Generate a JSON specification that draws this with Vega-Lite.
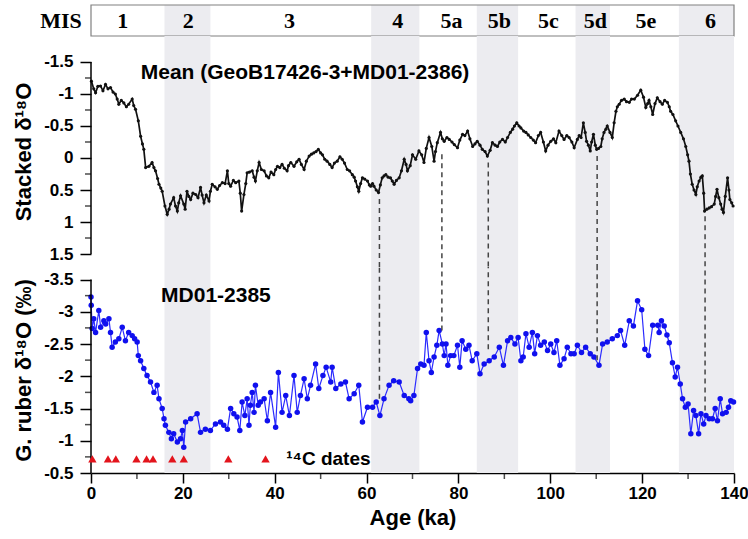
{
"$schema": "https://vega.github.io/schema/vega-lite/v6.json",
"background": "white",
"padding": {"left": 12, "top": 4, "right": 10, "bottom": 5},
"spacing": 0,
"bounds": "flush",
"resolve": {"scale": {"x": "independent", "y": "independent"}},
"config": {"view": {"stroke": null}, "font": "Liberation Sans",
 "axis": {"domainColor": "#000", "domainWidth": 1.5, "tickColor": "#000", "tickWidth": 1.5, "labelFont": "Liberation Sans", "labelFontSize": 17, "labelFontWeight": "bold", "labelColor": "#000", "titleFont": "Liberation Sans", "titleFontSize": 22, "titleFontWeight": "bold", "titleColor": "#000", "grid": false, "labelPadding": 3, "titlePadding": 12, "labelOverlap": false, "labelFlush": false}},
"datasets": {
 "bands": [{"start":16,"end":26},{"start":61,"end":71.5},{"start":84,"end":93},{"start":105.5,"end":113},{"start":128,"end":140}],
 "mis": [{"label":"1","pos":6.9},{"label":"2","pos":21.2},{"label":"3","pos":43.2},{"label":"4","pos":66.8},{"label":"5a","pos":78.5},{"label":"5b","pos":88.9},{"label":"5c","pos":99.6},{"label":"5d","pos":109.8},{"label":"5e","pos":120.8},{"label":"6","pos":134.9}],
 "dashed": [{"ka":62.8,"top":0.64,"bottom":-1.65},{"ka":76.4,"top":-0.06,"bottom":-2.71},{"ka":86.5,"top":0.07,"bottom":-2.42},{"ka":110.2,"top":-0.03,"bottom":-2.25},{"ka":133.7,"top":0.91,"bottom":-1.47}],
 "c14": [{"ka":0.3},{"ka":3.7},{"ka":5.4},{"ka":9.9},{"ka":12.1},{"ka":13.5},{"ka":17.7},{"ka":20.2},{"ka":29.9},{"ka":38.0}],
 "minorTop": [{"t":-1.25},{"t":-0.75},{"t":-0.25},{"t":0.25},{"t":0.75},{"t":1.25}],
 "minorBot": [{"t":-3.25},{"t":-2.75},{"t":-2.25},{"t":-1.75},{"t":-1.25},{"t":-0.75}],
 "minorX": [{"t":10},{"t":30},{"t":50},{"t":70},{"t":90},{"t":110},{"t":130}],
 "stack": [
{"ka":0.1,"v":-1.2},{"ka":0.6,"v":-1.08},{"ka":1.0,"v":-1.02},{"ka":1.5,"v":-1.12},{"ka":2.07,"v":-1.125},{"ka":2.6,"v":-1.05},{"ka":3.16,"v":-1.15},{"ka":3.7,"v":-1.08},{"ka":4.25,"v":-1.1},{"ka":4.8,"v":-1.03},{"ka":5.3,"v":-1.0},{"ka":5.7,"v":-0.92},{"ka":6.06,"v":-0.84},{"ka":6.6,"v":-0.9},{"ka":7.15,"v":-0.86},{"ka":7.7,"v":-0.8},{"ka":8.2,"v":-0.84},{"ka":8.97,"v":-0.92},{"ka":9.3,"v":-0.82},{"ka":9.7,"v":-0.76},{"ka":10.3,"v":-0.58},{"ka":10.8,"v":-0.34},{"ka":11.2,"v":-0.22},{"ka":11.5,"v":-0.135},{"ka":11.9,"v":0.15},{"ka":12.6,"v":0.13},{"ka":13.3,"v":0.07},{"ka":13.7,"v":0.15},{"ka":14.05,"v":0.2},{"ka":14.5,"v":0.32},{"ka":14.8,"v":0.41},{"ka":15.2,"v":0.47},{"ka":15.5,"v":0.52},{"ka":16.1,"v":0.75},{"ka":16.6,"v":0.88},{"ka":17.0,"v":0.8},{"ka":17.3,"v":0.72},{"ka":18.0,"v":0.62},{"ka":18.4,"v":0.75},{"ka":18.8,"v":0.83},{"ka":19.1,"v":0.7},{"ka":19.5,"v":0.59},{"ka":20.2,"v":0.72},{"ka":20.5,"v":0.8},{"ka":20.9,"v":0.52},{"ka":21.3,"v":0.6},{"ka":21.7,"v":0.65},{"ka":22.2,"v":0.55},{"ka":22.8,"v":0.57},{"ka":23.3,"v":0.62},{"ka":23.85,"v":0.46},{"ka":24.2,"v":0.58},{"ka":24.6,"v":0.7},{"ka":25.1,"v":0.58},{"ka":25.7,"v":0.67},{"ka":26.0,"v":0.52},{"ka":26.4,"v":0.41},{"ka":27.0,"v":0.45},{"ka":27.5,"v":0.49},{"ka":28.0,"v":0.43},{"ka":28.6,"v":0.385},{"ka":29.2,"v":0.4},{"ka":29.7,"v":0.2},{"ka":30.0,"v":0.4},{"ka":30.4,"v":0.44},{"ka":31.0,"v":0.35},{"ka":31.5,"v":0.385},{"ka":32.2,"v":0.36},{"ka":32.5,"v":0.55},{"ka":32.8,"v":0.83},{"ka":33.3,"v":0.57},{"ka":33.7,"v":0.4},{"ka":34.0,"v":0.23},{"ka":34.5,"v":0.22},{"ka":35.1,"v":0.2},{"ka":35.5,"v":0.3},{"ka":35.8,"v":0.36},{"ka":36.2,"v":0.2},{"ka":36.6,"v":0.07},{"ka":37.1,"v":0.18},{"ka":37.7,"v":0.2},{"ka":38.2,"v":0.28},{"ka":38.7,"v":0.31},{"ka":39.2,"v":0.22},{"ka":39.8,"v":0.26},{"ka":40.2,"v":0.18},{"ka":40.6,"v":0.13},{"ka":41.1,"v":0.15},{"ka":41.6,"v":0.1},{"ka":42.1,"v":0.16},{"ka":42.7,"v":0.2},{"ka":43.0,"v":0.12},{"ka":43.5,"v":0.07},{"ka":44.2,"v":0.13},{"ka":44.8,"v":0.06},{"ka":45.3,"v":0.02},{"ka":45.8,"v":0.1},{"ka":46.4,"v":0.18},{"ka":46.9,"v":0.05},{"ka":47.5,"v":-0.03},{"ka":48.0,"v":-0.06},{"ka":48.5,"v":-0.08},{"ka":49.0,"v":-0.1},{"ka":49.5,"v":-0.135},{"ka":50.0,"v":-0.08},{"ka":50.4,"v":-0.05},{"ka":50.9,"v":0.02},{"ka":51.4,"v":0.05},{"ka":52.0,"v":0.1},{"ka":52.5,"v":0.15},{"ka":53.0,"v":0.08},{"ka":53.6,"v":0.05},{"ka":54.2,"v":-0.02},{"ka":54.7,"v":0.02},{"ka":55.2,"v":0.08},{"ka":55.8,"v":0.18},{"ka":56.3,"v":0.2},{"ka":56.9,"v":0.26},{"ka":57.3,"v":0.3},{"ka":57.6,"v":0.36},{"ka":58.0,"v":0.45},{"ka":58.3,"v":0.52},{"ka":58.7,"v":0.4},{"ka":59.1,"v":0.31},{"ka":59.6,"v":0.33},{"ka":60.2,"v":0.36},{"ka":60.6,"v":0.42},{"ka":60.9,"v":0.44},{"ka":61.3,"v":0.4},{"ka":61.6,"v":0.44},{"ka":62.1,"v":0.5},{"ka":62.6,"v":0.54},{"ka":63.0,"v":0.42},{"ka":63.4,"v":0.31},{"ka":63.8,"v":0.28},{"ka":64.2,"v":0.26},{"ka":64.7,"v":0.3},{"ka":65.2,"v":0.31},{"ka":65.6,"v":0.36},{"ka":66.0,"v":0.41},{"ka":66.5,"v":0.35},{"ka":67.1,"v":0.31},{"ka":67.6,"v":0.2},{"ka":68.2,"v":0.02},{"ka":68.6,"v":0.1},{"ka":68.9,"v":0.2},{"ka":69.5,"v":0.12},{"ka":70.0,"v":-0.05},{"ka":70.7,"v":0.02},{"ka":71.4,"v":-0.11},{"ka":72.0,"v":-0.05},{"ka":72.5,"v":0.07},{"ka":73.0,"v":-0.15},{"ka":73.6,"v":-0.32},{"ka":74.2,"v":-0.18},{"ka":74.7,"v":0.05},{"ka":75.0,"v":-0.1},{"ka":75.4,"v":-0.24},{"ka":76.1,"v":-0.4},{"ka":76.5,"v":-0.3},{"ka":76.9,"v":-0.26},{"ka":77.5,"v":-0.32},{"ka":78.0,"v":-0.29},{"ka":78.6,"v":-0.25},{"ka":79.1,"v":-0.21},{"ka":79.8,"v":-0.16},{"ka":80.3,"v":-0.28},{"ka":80.9,"v":-0.37},{"ka":81.4,"v":-0.35},{"ka":82.0,"v":-0.42},{"ka":82.5,"v":-0.3},{"ka":83.1,"v":-0.18},{"ka":83.6,"v":-0.22},{"ka":84.1,"v":-0.26},{"ka":84.7,"v":-0.2},{"ka":85.2,"v":-0.135},{"ka":85.8,"v":-0.1},{"ka":86.3,"v":-0.03},{"ka":86.9,"v":-0.12},{"ka":87.4,"v":-0.24},{"ka":88.0,"v":-0.2},{"ka":88.5,"v":-0.18},{"ka":89.0,"v":-0.25},{"ka":89.6,"v":-0.29},{"ka":90.2,"v":-0.25},{"ka":90.7,"v":-0.32},{"ka":91.3,"v":-0.4},{"ka":91.8,"v":-0.45},{"ka":92.2,"v":-0.5},{"ka":92.7,"v":-0.55},{"ka":93.2,"v":-0.5},{"ka":93.6,"v":-0.47},{"ka":94.2,"v":-0.42},{"ka":94.7,"v":-0.4},{"ka":95.2,"v":-0.36},{"ka":95.75,"v":-0.32},{"ka":96.3,"v":-0.28},{"ka":96.8,"v":-0.24},{"ka":97.4,"v":-0.35},{"ka":97.9,"v":-0.4},{"ka":98.5,"v":-0.25},{"ka":99.0,"v":-0.11},{"ka":99.5,"v":-0.2},{"ka":100.1,"v":-0.26},{"ka":100.7,"v":-0.3},{"ka":101.2,"v":-0.24},{"ka":101.9,"v":-0.42},{"ka":102.5,"v":-0.35},{"ka":103.0,"v":-0.29},{"ka":103.6,"v":-0.35},{"ka":104.1,"v":-0.32},{"ka":104.7,"v":-0.25},{"ka":105.2,"v":-0.16},{"ka":105.9,"v":-0.29},{"ka":106.3,"v":-0.35},{"ka":106.7,"v":-0.32},{"ka":107.2,"v":-0.55},{"ka":107.6,"v":-0.4},{"ka":107.9,"v":-0.26},{"ka":108.3,"v":-0.2},{"ka":108.7,"v":-0.11},{"ka":109.0,"v":-0.25},{"ka":109.4,"v":-0.37},{"ka":109.8,"v":-0.2},{"ka":110.1,"v":-0.135},{"ka":110.5,"v":-0.15},{"ka":111.0,"v":-0.18},{"ka":111.3,"v":-0.3},{"ka":111.7,"v":-0.4},{"ka":112.1,"v":-0.45},{"ka":112.4,"v":-0.5},{"ka":113.0,"v":-0.4},{"ka":113.5,"v":-0.32},{"ka":113.9,"v":-0.55},{"ka":114.3,"v":-0.73},{"ka":114.6,"v":-0.8},{"ka":115.0,"v":-0.84},{"ka":115.5,"v":-0.9},{"ka":116.1,"v":-0.92},{"ka":116.6,"v":-0.88},{"ka":117.2,"v":-0.87},{"ka":117.7,"v":-0.92},{"ka":118.3,"v":-0.92},{"ka":119.0,"v":-0.98},{"ka":119.7,"v":-1.06},{"ka":120.3,"v":-0.95},{"ka":120.8,"v":-0.79},{"ka":121.2,"v":-0.85},{"ka":121.5,"v":-0.9},{"ka":121.9,"v":-0.8},{"ka":122.3,"v":-0.68},{"ka":122.8,"v":-0.85},{"ka":123.3,"v":-0.94},{"ka":123.9,"v":-0.88},{"ka":124.4,"v":-0.84},{"ka":124.9,"v":-0.9},{"ka":125.5,"v":-0.87},{"ka":125.9,"v":-0.8},{"ka":126.2,"v":-0.73},{"ka":126.7,"v":-0.68},{"ka":127.3,"v":-0.58},{"ka":127.8,"v":-0.5},{"ka":128.4,"v":-0.4},{"ka":129.0,"v":-0.3},{"ka":129.5,"v":-0.18},{"ka":129.9,"v":-0.05},{"ka":130.2,"v":0.05},{"ka":130.5,"v":0.25},{"ka":130.9,"v":0.41},{"ka":131.3,"v":0.5},{"ka":131.7,"v":0.57},{"ka":132.0,"v":0.45},{"ka":132.4,"v":0.36},{"ka":132.8,"v":0.3},{"ka":133.1,"v":0.28},{"ka":133.4,"v":0.55},{"ka":133.6,"v":0.83},{"ka":134.1,"v":0.8},{"ka":134.6,"v":0.78},{"ka":135.1,"v":0.76},{"ka":135.7,"v":0.72},{"ka":136.0,"v":0.6},{"ka":136.3,"v":0.49},{"ka":136.7,"v":0.62},{"ka":137.1,"v":0.72},{"ka":137.4,"v":0.8},{"ka":137.7,"v":0.85},{"ka":138.1,"v":0.6},{"ka":138.6,"v":0.31},{"ka":138.9,"v":0.5},{"ka":139.1,"v":0.65},{"ka":139.5,"v":0.7},{"ka":139.8,"v":0.75}],
 "md": [
{"ka":0.0,"v":-3.23},{"ka":0.05,"v":-3.1},{"ka":0.25,"v":-2.74},{"ka":0.6,"v":-2.89},{"ka":1.0,"v":-2.68},{"ka":1.7,"v":-3.02},{"ka":2.1,"v":-2.76},{"ka":2.8,"v":-2.86},{"ka":3.2,"v":-2.81},{"ka":3.9,"v":-2.89},{"ka":4.25,"v":-2.68},{"ka":4.6,"v":-2.45},{"ka":5.3,"v":-2.53},{"ka":6.06,"v":-2.58},{"ka":6.8,"v":-2.76},{"ka":7.5,"v":-2.55},{"ka":8.2,"v":-2.68},{"ka":8.97,"v":-2.63},{"ka":9.5,"v":-2.58},{"ka":10.05,"v":-2.53},{"ka":10.3,"v":-2.32},{"ka":10.8,"v":-2.24},{"ka":11.5,"v":-2.12},{"ka":12.2,"v":-2.01},{"ka":12.96,"v":-1.91},{"ka":13.7,"v":-1.75},{"ka":14.4,"v":-1.86},{"ka":14.8,"v":-1.65},{"ka":15.5,"v":-1.5},{"ka":15.9,"v":-1.34},{"ka":16.2,"v":-1.24},{"ka":16.95,"v":-1.13},{"ka":17.5,"v":-1.03},{"ka":18.0,"v":-1.11},{"ka":18.8,"v":-0.98},{"ka":19.5,"v":-1.03},{"ka":19.9,"v":-1.16},{"ka":20.2,"v":-0.9},{"ka":20.6,"v":-1.29},{"ka":21.7,"v":-1.34},{"ka":23.1,"v":-1.42},{"ka":23.85,"v":-1.13},{"ka":24.9,"v":-1.18},{"ka":26.0,"v":-1.16},{"ka":27.1,"v":-1.26},{"ka":28.2,"v":-1.29},{"ka":28.9,"v":-1.24},{"ka":29.7,"v":-1.18},{"ka":30.4,"v":-1.5},{"ka":31.1,"v":-1.42},{"ka":31.8,"v":-1.37},{"ka":32.4,"v":-1.16},{"ka":32.9,"v":-1.6},{"ka":33.5,"v":-1.39},{"ka":34.0,"v":-1.65},{"ka":34.4,"v":-1.24},{"ka":34.7,"v":-1.55},{"ka":35.1,"v":-1.75},{"ka":35.5,"v":-1.44},{"ka":35.8,"v":-1.86},{"ka":36.4,"v":-1.55},{"ka":36.9,"v":-1.6},{"ka":37.7,"v":-1.65},{"ka":38.4,"v":-1.31},{"ka":39.1,"v":-1.75},{"ka":40.2,"v":-1.21},{"ka":40.8,"v":-2.06},{"ka":41.6,"v":-1.44},{"ka":42.4,"v":-1.7},{"ka":43.2,"v":-1.39},{"ka":44.2,"v":-2.01},{"ka":44.9,"v":-1.44},{"ka":45.6,"v":-1.7},{"ka":46.4,"v":-1.96},{"ka":47.1,"v":-1.65},{"ka":47.8,"v":-1.86},{"ka":48.9,"v":-2.19},{"ka":49.6,"v":-1.81},{"ka":50.5,"v":-2.01},{"ka":51.2,"v":-2.14},{"ka":52.2,"v":-1.91},{"ka":52.5,"v":-2.14},{"ka":53.3,"v":-1.81},{"ka":54.4,"v":-1.88},{"ka":55.4,"v":-1.91},{"ka":56.2,"v":-1.65},{"ka":57.3,"v":-1.73},{"ka":58.3,"v":-1.86},{"ka":59.1,"v":-1.29},{"ka":60.2,"v":-1.52},{"ka":61.3,"v":-1.52},{"ka":62.1,"v":-1.6},{"ka":62.9,"v":-1.39},{"ka":63.8,"v":-1.65},{"ka":64.9,"v":-1.86},{"ka":65.9,"v":-1.93},{"ka":67.1,"v":-1.91},{"ka":68.2,"v":-1.7},{"ka":69.2,"v":-1.65},{"ka":69.6,"v":-1.62},{"ka":70.3,"v":-1.7},{"ka":71.1,"v":-2.12},{"ka":71.8,"v":-2.19},{"ka":72.5,"v":-2.17},{"ka":73.0,"v":-2.68},{"ka":73.6,"v":-2.24},{"ka":74.1,"v":-2.06},{"ka":74.7,"v":-2.3},{"ka":75.3,"v":-2.48},{"ka":75.8,"v":-2.71},{"ka":76.5,"v":-2.5},{"ka":76.9,"v":-2.32},{"ka":77.3,"v":-2.5},{"ka":77.7,"v":-2.17},{"ka":78.3,"v":-2.32},{"ka":79.0,"v":-2.32},{"ka":79.8,"v":-2.48},{"ka":80.3,"v":-2.14},{"ka":80.8,"v":-2.55},{"ka":81.6,"v":-2.42},{"ka":82.3,"v":-2.48},{"ka":83.0,"v":-2.24},{"ka":84.0,"v":-2.35},{"ka":84.7,"v":-2.04},{"ka":85.6,"v":-2.19},{"ka":86.7,"v":-2.24},{"ka":87.8,"v":-2.3},{"ka":88.9,"v":-2.45},{"ka":89.8,"v":-2.17},{"ka":90.7,"v":-2.55},{"ka":91.4,"v":-2.6},{"ka":92.3,"v":-2.5},{"ka":93.0,"v":-2.6},{"ka":93.6,"v":-2.24},{"ka":94.1,"v":-2.3},{"ka":94.7,"v":-2.66},{"ka":95.4,"v":-2.45},{"ka":96.1,"v":-2.68},{"ka":96.6,"v":-2.35},{"ka":97.2,"v":-2.63},{"ka":97.9,"v":-2.48},{"ka":98.7,"v":-2.53},{"ka":99.4,"v":-2.4},{"ka":100.1,"v":-2.5},{"ka":100.8,"v":-2.37},{"ka":101.4,"v":-2.55},{"ka":102.1,"v":-2.17},{"ka":103.0,"v":-2.27},{"ka":103.7,"v":-2.45},{"ka":104.5,"v":-2.35},{"ka":105.2,"v":-2.35},{"ka":105.9,"v":-2.48},{"ka":106.8,"v":-2.37},{"ka":107.7,"v":-2.45},{"ka":108.7,"v":-2.35},{"ka":109.5,"v":-2.3},{"ka":110.6,"v":-2.17},{"ka":111.4,"v":-2.5},{"ka":112.4,"v":-2.53},{"ka":113.5,"v":-2.58},{"ka":114.6,"v":-2.63},{"ka":115.3,"v":-2.71},{"ka":116.2,"v":-2.48},{"ka":117.2,"v":-2.86},{"ka":118.1,"v":-2.78},{"ka":119.0,"v":-3.17},{"ka":119.9,"v":-3.03},{"ka":120.6,"v":-2.42},{"ka":121.4,"v":-2.32},{"ka":122.3,"v":-2.79},{"ka":123.4,"v":-2.79},{"ka":123.7,"v":-2.68},{"ka":124.2,"v":-2.86},{"ka":124.8,"v":-2.78},{"ka":125.4,"v":-2.64},{"ka":125.9,"v":-2.52},{"ka":126.6,"v":-2.21},{"ka":127.2,"v":-1.99},{"ka":127.7,"v":-2.14},{"ka":128.3,"v":-1.88},{"ka":128.8,"v":-1.65},{"ka":129.4,"v":-1.52},{"ka":130.0,"v":-1.57},{"ka":130.6,"v":-1.11},{"ka":131.2,"v":-1.47},{"ka":131.7,"v":-1.39},{"ka":132.3,"v":-1.11},{"ka":132.8,"v":-1.42},{"ka":133.4,"v":-1.26},{"ka":133.9,"v":-1.39},{"ka":134.6,"v":-1.34},{"ka":135.3,"v":-1.34},{"ka":135.9,"v":-1.5},{"ka":136.4,"v":-1.31},{"ka":137.0,"v":-1.65},{"ka":137.5,"v":-1.42},{"ka":138.3,"v":-1.44},{"ka":138.8,"v":-1.52},{"ka":139.3,"v":-1.62},{"ka":139.9,"v":-1.6}]
},
"vconcat": [
 {
  "width": 643, "height": 31,
  "layer": [
   {"data": {"name": "bands"}, "mark": {"type": "rect", "color": "#ececf0"},
    "encoding": {"x": {"field": "start", "type": "quantitative", "scale": {"domain": [0, 140], "nice": false, "zero": false}, "axis": null}, "x2": {"field": "end"}}},
   {"data": {"values": [{"a": 0, "b": 140}]}, "mark": {"type": "rect", "fillOpacity": 0, "stroke": "#808080", "strokeWidth": 1.2},
    "encoding": {"x": {"field": "a", "type": "quantitative", "axis": null}, "x2": {"field": "b"}}},
   {"data": {"name": "mis"}, "mark": {"type": "text", "font": "Liberation Serif", "fontSize": 22, "fontWeight": "bold", "color": "#000"},
    "encoding": {"x": {"field": "pos", "type": "quantitative", "axis": null}, "text": {"field": "label", "type": "nominal"}}},
   {"data": {"values": [{"label": "MIS", "pos": -2}]}, "mark": {"type": "text", "font": "Liberation Serif", "fontSize": 22, "fontWeight": "bold", "color": "#000", "align": "right"},
    "encoding": {"x": {"field": "pos", "type": "quantitative", "axis": null}, "text": {"field": "label", "type": "nominal"}}}
  ]
 },
 {
  "width": 643, "height": 231,
  "layer": [
   {"data": {"name": "bands"}, "mark": {"type": "rect", "color": "#ececf0"},
    "encoding": {"x": {"field": "start", "type": "quantitative", "scale": {"domain": [0, 140], "nice": false, "zero": false}, "axis": null}, "x2": {"field": "end"},
     "y": {"datum": -1.906, "type": "quantitative"}, "y2": {"datum": 1.703}}},
   {"data": {"name": "stack"}, "mark": {"type": "line", "color": "#111", "strokeWidth": 1.7, "point": {"filled": true, "size": 10, "color": "#111"}},
    "encoding": {"x": {"field": "ka", "type": "quantitative", "axis": null},
     "y": {"field": "v", "type": "quantitative", "scale": {"domain": [-1.906, 1.703], "reverse": true, "nice": false, "zero": false},
      "axis": {"values": [-1.5,-1,-0.5,0,0.5,1,1.5], "tickCount": 50, "domain": false, "labelExpr": "'' + datum.value", "tickSize": 11, "labelOverlap": false, "labelPadding": 7, "titlePadding": 8, "title": "Stacked δ¹⁸O"}}}},
   {"data": {"values": [{"x": 0, "y1": -1.5, "y2": 1.5}]}, "mark": {"type": "rule", "color": "#000", "strokeWidth": 1.5},
    "encoding": {"x": {"field": "x", "type": "quantitative", "axis": null}, "y": {"field": "y1", "type": "quantitative"}, "y2": {"field": "y2"}}},
   {"data": {"name": "minorTop"}, "mark": {"type": "tick", "orient": "horizontal", "size": 6, "thickness": 1.5, "xOffset": -3, "color": "#000"},
    "encoding": {"x": {"datum": 0, "type": "quantitative", "axis": null}, "y": {"field": "t", "type": "quantitative"}}},
   {"data": {"name": "dashed"}, "mark": {"type": "rule", "color": "#444", "strokeWidth": 1.5, "strokeDash": [5, 4]},
    "encoding": {"x": {"field": "ka", "type": "quantitative", "axis": null}, "y": {"field": "top", "type": "quantitative"}, "y2": {"datum": 1.703}}},
   {"data": {"values": [{"label": "Mean (GeoB17426-3+MD01-2386)", "ka": 46.6, "v": -1.33}]}, "mark": {"type": "text", "fontSize": 21, "fontWeight": "bold", "color": "#000", "font": "Liberation Sans"},
    "encoding": {"x": {"field": "ka", "type": "quantitative", "axis": null}, "y": {"field": "v", "type": "quantitative"}, "text": {"field": "label", "type": "nominal"}}}
  ]
 },
 {
  "width": 643, "height": 206,
  "layer": [
   {"data": {"name": "bands"}, "mark": {"type": "rect", "color": "#ececf0"},
    "encoding": {"x": {"field": "start", "type": "quantitative", "scale": {"domain": [0, 140], "nice": false, "zero": false}}, "x2": {"field": "end"},
     "y": {"datum": -3.694, "type": "quantitative"}, "y2": {"datum": -0.5}}},
   {"data": {"name": "md"}, "mark": {"type": "line", "color": "#2b2bff", "strokeWidth": 1.2, "point": {"filled": true, "size": 30, "color": "#1010ee", "opacity": 1}},
    "encoding": {"x": {"field": "ka", "type": "quantitative",
      "axis": {"values": [0,20,40,60,80,100,120,140], "tickCount": 50, "tickSize": 10, "labelOverlap": false, "title": "Age (ka)", "labelPadding": 2, "titlePadding": 6}},
     "y": {"field": "v", "type": "quantitative", "scale": {"domain": [-3.694, -0.5], "reverse": true, "nice": false, "zero": false},
      "axis": {"values": [-3.5,-3,-2.5,-2,-1.5,-1,-0.5], "tickCount": 50, "domain": false, "labelExpr": "'' + datum.value", "tickSize": 11, "labelOverlap": false, "labelPadding": 7, "titlePadding": 8, "title": "G. ruber δ¹⁸O (‰)"}}}},
   {"data": {"values": [{"x": 0, "y1": -3.5, "y2": -0.5}]}, "mark": {"type": "rule", "color": "#000", "strokeWidth": 1.5},
    "encoding": {"x": {"field": "x", "type": "quantitative"}, "y": {"field": "y1", "type": "quantitative"}, "y2": {"field": "y2"}}},
   {"data": {"name": "minorBot"}, "mark": {"type": "tick", "orient": "horizontal", "size": 6, "thickness": 1.5, "xOffset": -3, "color": "#000"},
    "encoding": {"x": {"datum": 0, "type": "quantitative"}, "y": {"field": "t", "type": "quantitative"}}},
   {"data": {"name": "minorX"}, "mark": {"type": "tick", "orient": "vertical", "size": 6, "thickness": 1.5, "yOffset": 3, "color": "#000"},
    "encoding": {"x": {"field": "t", "type": "quantitative"}, "y": {"datum": -0.5, "type": "quantitative"}}},
   {"data": {"name": "dashed"}, "mark": {"type": "rule", "color": "#444", "strokeWidth": 1.5, "strokeDash": [5, 4]},
    "encoding": {"x": {"field": "ka", "type": "quantitative"}, "y": {"field": "bottom", "type": "quantitative"}, "y2": {"datum": -3.694}}},
   {"data": {"name": "c14"}, "mark": {"type": "point", "shape": "triangle-up", "filled": true, "color": "#e3141c", "size": 70, "opacity": 1},
    "encoding": {"x": {"field": "ka", "type": "quantitative"}, "y": {"datum": -0.72, "type": "quantitative"}}},
   {"data": {"values": [{"label": "MD01-2385", "ka": 27.2, "v": -3.244}]}, "mark": {"type": "text", "fontSize": 21, "fontWeight": "bold", "color": "#000", "font": "Liberation Sans"},
    "encoding": {"x": {"field": "ka", "type": "quantitative"}, "y": {"field": "v", "type": "quantitative"}, "text": {"field": "label", "type": "nominal"}}},
   {"data": {"values": [{"label": "¹⁴C dates", "ka": 42.5, "v": -0.72}]}, "mark": {"type": "text", "fontSize": 19, "fontWeight": "bold", "color": "#000", "font": "Liberation Sans", "align": "left"},
    "encoding": {"x": {"field": "ka", "type": "quantitative"}, "y": {"field": "v", "type": "quantitative"}, "text": {"field": "label", "type": "nominal"}}}
  ]
 }
]
}
